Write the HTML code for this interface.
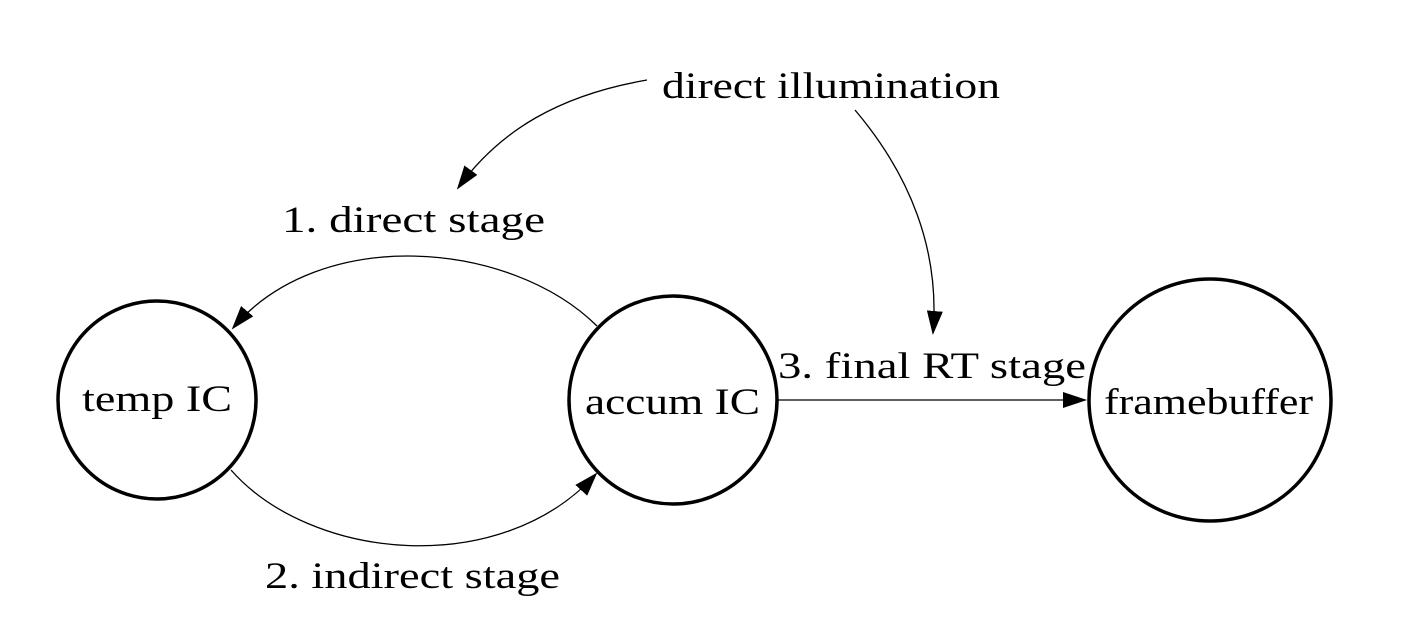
<!DOCTYPE html>
<html><head><style>
html,body{margin:0;padding:0;background:#fff;}
svg{display:block;}
text{font-family:"Liberation Serif",serif;font-size:37px;fill:#000;}
</style></head><body>
<svg width="1404" height="633" viewBox="0 0 1404 633" xmlns="http://www.w3.org/2000/svg">
<defs>
<marker id="a" markerWidth="24" markerHeight="16" refX="22" refY="8" orient="auto" markerUnits="userSpaceOnUse">
<path d="M0,0 L24,8 L0,16 Z" fill="#000"/>
</marker>
</defs>
<g fill="none" stroke="#000" stroke-width="3.5">
<circle cx="157" cy="400" r="99"/>
<circle cx="673" cy="400" r="104"/>
<circle cx="1210" cy="400" r="121"/>
</g>
<g fill="none" stroke="#000" stroke-width="1.3">
<path d="M597,326 C510,240 320,225 233,328" marker-end="url(#a)"/>
<path d="M231,470 C310,560 500,580 596,474" marker-end="url(#a)"/>
<path d="M778,400 L1085,400" marker-end="url(#a)"/>
<path d="M647,80 C560,95 500,130 458,188" marker-end="url(#a)"/>
<path d="M855,110 C910,175 940,250 933,333" marker-end="url(#a)"/>
</g>
<text x="82" y="411" textLength="150" lengthAdjust="spacingAndGlyphs">temp IC</text>
<text x="585" y="414" textLength="175" lengthAdjust="spacingAndGlyphs">accum IC</text>
<text x="1104" y="414" textLength="209" lengthAdjust="spacingAndGlyphs">framebuffer</text>
<text x="662" y="98" textLength="338" lengthAdjust="spacingAndGlyphs">direct illumination</text>
<text x="282" y="232" textLength="263" lengthAdjust="spacingAndGlyphs">1. direct stage</text>
<text x="265" y="588" textLength="295" lengthAdjust="spacingAndGlyphs">2. indirect stage</text>
<text x="778" y="378" textLength="308" lengthAdjust="spacingAndGlyphs">3. final RT stage</text>
</svg>
</body></html>
